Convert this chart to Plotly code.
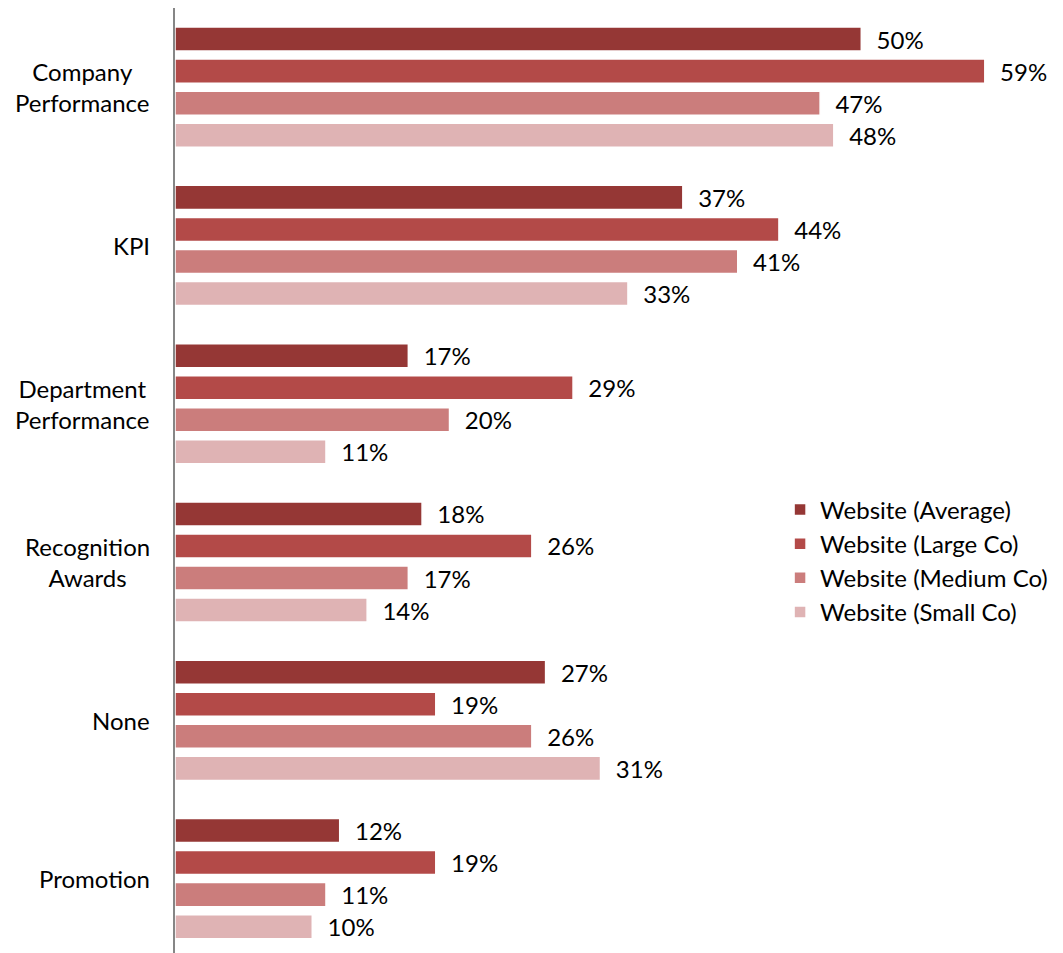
import plotly.graph_objects as go

categories = ["Company<br>Performance", "KPI", "Department<br>Performance",
              "Recognition<br>Awards", "None", "Promotion"]
series_names = ["Website (Average)", "Website (Large Co)", "Website (Medium Co)", "Website (Small Co)"]
avg_vals = [50, 37, 17, 18, 27, 12]
large_vals = [59, 44, 29, 26, 19, 19]
medium_vals = [47, 41, 20, 17, 26, 11]
small_vals = [48, 33, 11, 14, 31, 10]
colors = ["#953735", "#B34A48", "#CB7D7C", "#DFB3B4"]

FONT = "Lato, Calibri, Carlito, sans-serif"

fig = go.Figure()
for name, vals, col in zip(series_names, [avg_vals, large_vals, medium_vals, small_vals], colors):
    fig.add_trace(go.Bar(
        y=categories, x=vals, name=name, orientation="h",
        marker=dict(color=col, line=dict(color="white", width=1.5)),
        text=[f"\u00a0\u00a0{v}%" for v in vals],
        textposition="outside", cliponaxis=False, constraintext="none",
        textfont=dict(family=FONT, size=24, color="black"),
        hoverinfo="x+y+name",
    ))

# category labels: block right-aligned, lines centred (as in the original)
for cat in categories:
    fig.add_annotation(x=0, xref="paper", y=cat, yref="y", text=cat,
                       xanchor="right", yanchor="middle", align="center",
                       xshift=-23, showarrow=False,
                       font=dict(family=FONT, size=24, color="black"))

fig.update_layout(
    width=1055, height=945,
    margin=dict(l=167, r=37, t=0, b=0, autoexpand=False),
    barmode="group", bargap=0.19, bargroupgap=0.25,
    plot_bgcolor="white", paper_bgcolor="white",
    font=dict(family=FONT, size=24, color="black"),
    showlegend=True,
    legend=dict(x=0.711, y=0.415, xanchor="left", yanchor="middle",
                font=dict(family=FONT, size=24, color="black"),
                itemwidth=30, tracegroupgap=0, bgcolor="rgba(0,0,0,0)"),
)
fig.update_xaxes(range=[0, 62], visible=False, showgrid=False, zeroline=False, automargin=False)
fig.update_yaxes(range=[5.47, -0.5], showline=True, linecolor="#868686", linewidth=2,
                 showgrid=False, ticks="", showticklabels=False, automargin=False)

fig.write_html("out.html")
